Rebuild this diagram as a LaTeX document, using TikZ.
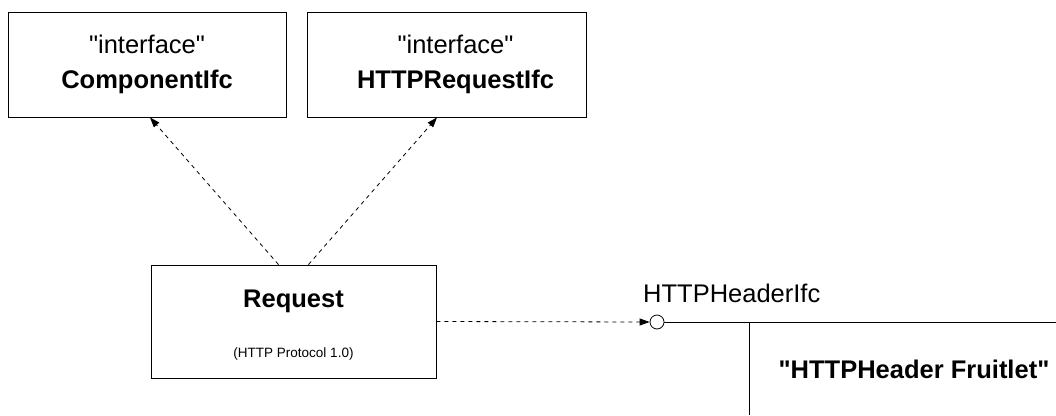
\documentclass[tikz,border=0pt]{standalone}
\usepackage{fontspec}
\setmainfont{Liberation Sans}[Ligatures=TeXOff]
\usetikzlibrary{arrows.meta}
\tikzset{
  classbox/.style={draw, line width=0.9pt, inner sep=0pt, align=center,
    font=\fontsize{25.5}{35}\selectfont},
  plaintext/.style={inner sep=0pt, font=\fontsize{25.5}{30}\selectfont},
  depend/.style={dashed, dash pattern=on 4pt off 4pt, line width=0.8pt,
    -{Triangle[length=10pt,width=7pt]}}
}
\begin{document}
\begin{tikzpicture}[x=1pt,y=-1pt]
      \useasboundingbox (0,0) rectangle (1056,415);
      \draw
        (147,64.5) node[classbox, minimum width=278pt, minimum height=105pt] (comp)
          {"interface"\\\textbf{ComponentIfc}}
        (446.5,64.5) node[classbox, minimum width=279pt, minimum height=105pt] (reqifc)
          {\hspace{18pt}"interface"\\\hspace{18pt}\textbf{HTTPRequestIfc}}
        (293.5,321.5) node[classbox, minimum width=285pt, minimum height=113pt] (request){}
        (293.5,307) node[plaintext, anchor=base, font=\fontsize{25.5}{30}\selectfont\bfseries] (reqname){Request}
        (293.5,357) node[plaintext, anchor=base, font=\fontsize{13.5}{16}\selectfont] (reqnote){(HTTP Protocol 1.0)}
        (657,322) node[circle, draw, line width=0.8pt, minimum size=14pt, inner sep=0pt] (lolly){}
        (643,302) node[plaintext, anchor=base west] (ifclabel){HTTPHeaderIfc}
        (914,378) node[plaintext, anchor=base, font=\fontsize{25.5}{30}\selectfont\bfseries] (fruitlet){"HTTPHeader Fruitlet"};
      \coordinate (lineend) at (1056,322);
      \coordinate (split) at (749,322);
      \coordinate (splitend) at (749,415);
      \begin{scope}[depend]
        \draw ([xshift=-15pt]request.north) to ([xshift=3pt]comp.south);
        \draw ([xshift=15pt]request.north) to ([xshift=-9.5pt]reqifc.south);
        \draw (request.east) to (lolly.west);
      \end{scope}
      \begin{scope}[-, line width=0.8pt]
        \draw (lolly.east) to (lineend);
        \draw (split) to (splitend);
      \end{scope}
    \end{tikzpicture}
\end{document}
